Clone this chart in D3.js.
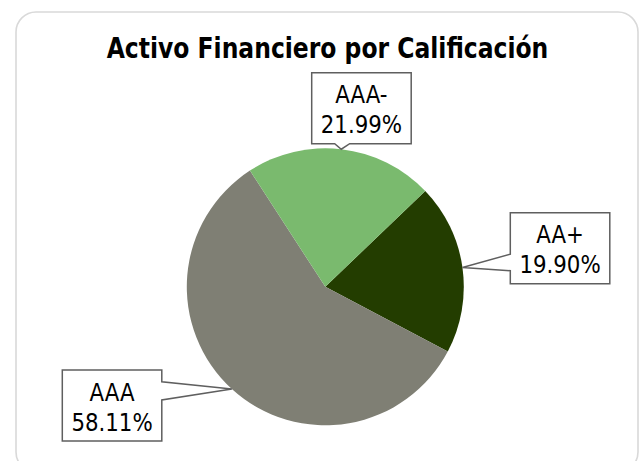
<!DOCTYPE html>
<html>
<head>
<meta charset="utf-8">
<script src="https://cdn.jsdelivr.net/npm/d3@7"></script>
<style>
  html, body { margin: 0; padding: 0; background: #fff; }
  svg { display: block; font-family: "DejaVu Sans Condensed", "DejaVu Sans", sans-serif; }
</style>
</head>
<body>
<svg id="chart" width="641" height="461"></svg>
<script>
// chart data
const categories = ['AA+', 'AAA', 'AAA-'];
const shares = [19.90, 58.11, 21.99];
const sliceColors = ['#233d00', '#7f7f74', '#7aba6e'];
const title = 'Activo Financiero por Calificación';

// callout boxes: top-left corner, side the pointer leaves from, and
// where along that side the pointer base sits
const callouts = {
  'AAA-': { x: 311.7, y: 72.7, side: 'bottom', base: [23, 38] },
  'AA+':  { x: 510.3, y: 212.7, side: 'left', base: [41.5, 58] },
  'AAA':  { x: 62.3, y: 370, side: 'right', base: [11.7, 30] }
};
const boxW = 99.5, boxH = 71;

const svg = d3.select('#chart');
const cx = 325.3, cy = 286.8, radius = 138.5;

// outer frame with rounded corners
svg.append('rect')
  .attr('x', 16).attr('y', 12)
  .attr('width', 622).attr('height', 460)
  .attr('rx', 20).attr('ry', 20)
  .attr('fill', '#fff')
  .attr('stroke', '#d9d9d9')
  .attr('stroke-width', 1.6);

// squeeze a text node horizontally so it spans the given width
function fitText(sel, width) {
  const w = sel.node().getComputedTextLength();
  sel.attr('textLength', Math.min(w, width)).attr('lengthAdjust', 'spacingAndGlyphs');
}

const titleText = svg.append('text')
  .attr('x', 327.5).attr('y', 58.3)
  .attr('text-anchor', 'middle')
  .attr('font-weight', 'bold')
  .attr('font-size', 27.5)
  .attr('fill', '#000')
  .text(title);
fitText(titleText, 441.6);

const data = categories.map((c, i) => ({ cat: c, value: shares[i], color: sliceColors[i] }));

const pie = d3.pie()
  .sort(null)
  .value(d => d.value)
  .startAngle(46.2 * Math.PI / 180)
  .endAngle(46.2 * Math.PI / 180 + 2 * Math.PI);

const arc = d3.arc().innerRadius(0).outerRadius(radius);
const arcs = pie(data);

const g = svg.append('g').attr('transform', `translate(${cx},${cy})`);
g.selectAll('path.slice')
  .data(arcs)
  .join('path')
  .attr('class', 'slice')
  .attr('d', arc)
  .attr('fill', d => d.data.color);

// callout shape: rectangle with a wedge pointing at the slice edge
function calloutPath(c, tip) {
  const x0 = c.x, y0 = c.y, x1 = c.x + boxW, y1 = c.y + boxH;
  const p = d3.path();
  p.moveTo(x0, y0);
  p.lineTo(x1, y0);
  if (c.side === 'right') {
    p.lineTo(x1, y0 + c.base[0]);
    p.lineTo(tip[0], tip[1]);
    p.lineTo(x1, y0 + c.base[1]);
  }
  p.lineTo(x1, y1);
  if (c.side === 'bottom') {
    p.lineTo(x0 + c.base[1], y1);
    p.lineTo(tip[0], tip[1]);
    p.lineTo(x0 + c.base[0], y1);
  }
  p.lineTo(x0, y1);
  if (c.side === 'left') {
    p.lineTo(x0, y0 + c.base[1]);
    p.lineTo(tip[0], tip[1]);
    p.lineTo(x0, y0 + c.base[0]);
  }
  p.closePath();
  return p.toString();
}

const labels = svg.selectAll('g.callout')
  .data(arcs)
  .join('g')
  .attr('class', 'callout');

labels.append('path')
  .attr('d', d => {
    const mid = (d.startAngle + d.endAngle) / 2;
    const tip = [cx + radius * Math.sin(mid), cy - radius * Math.cos(mid)];
    return calloutPath(callouts[d.data.cat], tip);
  })
  .attr('fill', '#fff')
  .attr('stroke', '#5f5f5f')
  .attr('stroke-width', 1.5)
  .attr('stroke-linejoin', 'miter');

labels.each(function (d) {
  const c = callouts[d.data.cat];
  const grp = d3.select(this);
  const lines = [d.data.cat, d3.format('.2f')(d.data.value) + '%'];
  lines.forEach((t, i) => {
    const txt = grp.append('text')
      .attr('x', c.x + boxW / 2)
      .attr('y', c.y + 30.5 + i * 30)
      .attr('text-anchor', 'middle')
      .attr('font-size', 25.5)
      .attr('fill', '#000')
      .text(t);
    const w = txt.node().getComputedTextLength();
    txt.attr('textLength', w * 0.93).attr('lengthAdjust', 'spacingAndGlyphs');
  });
});
</script>
</body>
</html>
